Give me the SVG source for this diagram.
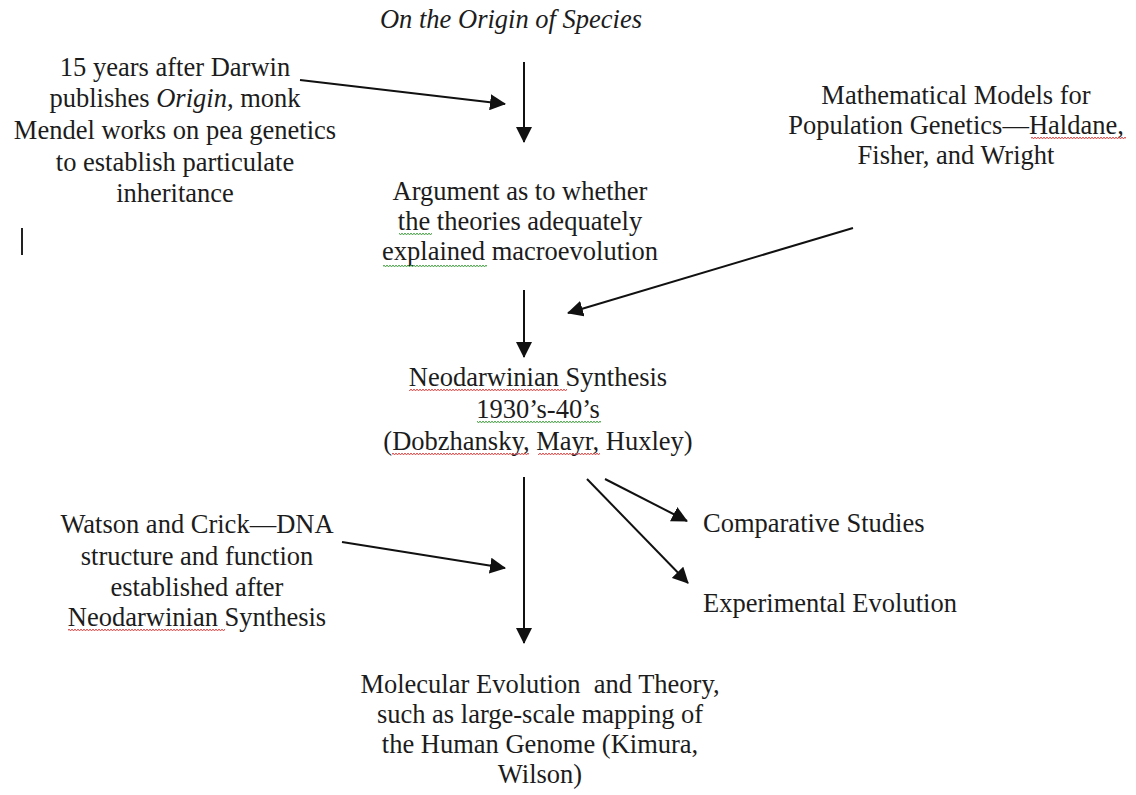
<svg xmlns="http://www.w3.org/2000/svg" width="1136" height="795" viewBox="0 0 1136 795">
<style>
text{font-family:"Liberation Serif","Times New Roman",serif;font-size:26.5px;fill:#1c1c1c;text-anchor:middle}
.it{font-style:italic}
.ln{stroke:#111;stroke-width:2;fill:none}
</style>
<defs>
<marker id="ah" viewBox="0 0 16 16" refX="15" refY="8" markerWidth="16" markerHeight="16" markerUnits="userSpaceOnUse" orient="auto">
<path d="M0,0 L16,8 L0,16 Z" fill="#111"/>
</marker>
<pattern id="sqR" width="6" height="4" patternUnits="userSpaceOnUse">
<path d="M0,1 L1.5,3 L3,1 L4.5,3 L6,1" stroke="#d23a3a" stroke-width="0.9" fill="none"/>
</pattern>
<pattern id="sqG" width="6" height="4" patternUnits="userSpaceOnUse">
<path d="M0,1 L1.5,3 L3,1 L4.5,3 L6,1" stroke="#3a9a3a" stroke-width="0.9" fill="none"/>
</pattern>
</defs>
<rect width="1136" height="795" fill="#fff"/>

<g id="connectors">
<line class="ln" x1="524" y1="62" x2="524" y2="142" marker-end="url(#ah)"/>
<line class="ln" x1="300" y1="80" x2="505" y2="104" marker-end="url(#ah)"/>
<line class="ln" x1="524" y1="290" x2="524" y2="357" marker-end="url(#ah)"/>
<line class="ln" x1="853" y1="228" x2="568" y2="313" marker-end="url(#ah)"/>
<line class="ln" x1="524" y1="477" x2="524" y2="643" marker-end="url(#ah)"/>
<line class="ln" x1="342" y1="542" x2="505" y2="568" marker-end="url(#ah)"/>
<line class="ln" x1="605" y1="479" x2="687" y2="521" marker-end="url(#ah)"/>
<line class="ln" x1="587" y1="479" x2="688" y2="583" marker-end="url(#ah)"/>
</g>

<g id="origin">
<text class="it" x="511" y="28">On the Origin of Species</text>
</g>

<g id="mendel">
<text x="175" y="76">15 years after Darwin</text>
<text x="175" y="107">publishes <tspan class="it">Origin</tspan>, monk</text>
<text x="175" y="139">Mendel works on pea genetics</text>
<text x="175" y="171">to establish particulate</text>
<text x="175" y="202">inheritance</text>
<line x1="22" y1="228" x2="22" y2="255" stroke="#222" stroke-width="2"/>
</g>

<g id="argument">
<text x="520" y="200">Argument as to whether</text>
<text x="520" y="230">the theories adequately</text>
<text x="520" y="260">explained macroevolution</text>
<rect x="399" y="233" width="33" height="4" fill="url(#sqG)"/>
<rect x="383" y="263" width="104" height="4" fill="url(#sqG)"/>
</g>

<g id="mathmodels">
<text x="956" y="104">Mathematical Models for</text>
<text x="956" y="134">Population Genetics—Haldane,</text>
<text x="956" y="164">Fisher, and Wright</text>
<rect x="1031" y="137" width="95" height="4" fill="url(#sqR)"/>
</g>

<g id="neodarwinian">
<text x="538" y="386">Neodarwinian Synthesis</text>
<text x="538" y="418">1930’s-40’s</text>
<text x="538" y="450">(Dobzhansky, Mayr, Huxley)</text>
<rect x="409" y="389" width="158" height="4" fill="url(#sqR)"/>
<rect x="477" y="421" width="124" height="4" fill="url(#sqG)"/>
<rect x="392" y="453" width="137" height="4" fill="url(#sqR)"/>
<rect x="538" y="453" width="62" height="4" fill="url(#sqR)"/>
</g>

<g id="comparative">
<text x="703" y="532" style="text-anchor:start">Comparative Studies</text>
</g>

<g id="experimental">
<text x="703" y="612" style="text-anchor:start">Experimental Evolution</text>
</g>

<g id="watson">
<text x="197" y="533">Watson and Crick—DNA</text>
<text x="197" y="565">structure and function</text>
<text x="197" y="596">established after</text>
<text x="197" y="626">Neodarwinian Synthesis</text>
<rect x="68" y="629" width="157" height="4" fill="url(#sqR)"/>
</g>

<g id="molecular">
<text x="540" y="693" xml:space="preserve">Molecular Evolution  and Theory,</text>
<text x="540" y="723">such as large-scale mapping of</text>
<text x="540" y="753">the Human Genome (Kimura,</text>
<text x="540" y="783">Wilson)</text>
</g>
</svg>
